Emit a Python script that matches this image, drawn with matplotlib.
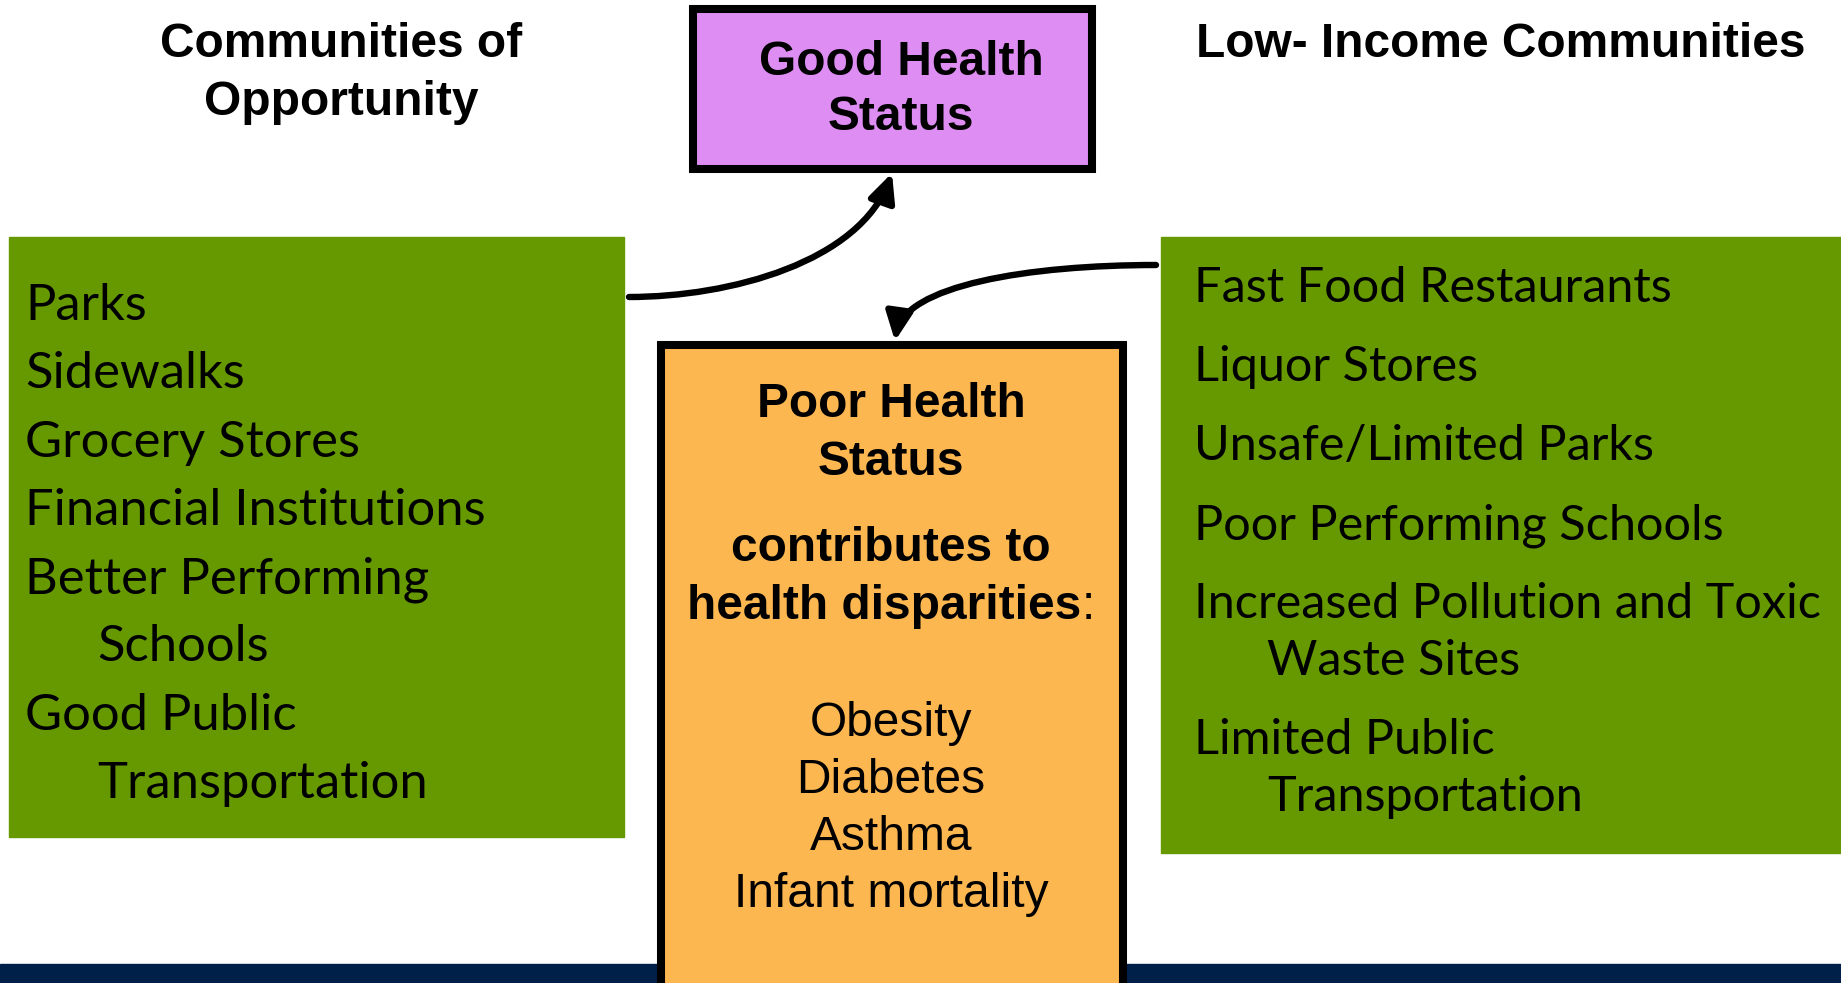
import matplotlib
matplotlib.use("Agg")
import matplotlib.pyplot as plt
from matplotlib.patches import Rectangle, FancyArrowPatch
from matplotlib.path import Path

W, H = 1841, 983

# text content
leftHeading = ["Communities of", "Opportunity"]
rightHeading = "Low- Income Communities"
goodTitle = ["Good Health", "Status"]
poorTitle = ["Poor Health", "Status"]
poorSub = ["contributes to", "health disparities"]
disparities = ["Obesity", "Diabetes", "Asthma", "Infant mortality"]
leftItems = ["Parks", "Sidewalks", "Grocery Stores", "Financial Institutions",
             "Better Performing\nSchools", "Good Public\nTransportation"]
rightItems = ["Fast Food Restaurants", "Liquor Stores", "Unsafe/Limited Parks",
              "Poor Performing Schools", "Increased Pollution and Toxic\nWaste Sites",
              "Limited Public\nTransportation"]

# colours
green = "#669900"
purple = "#DE8DF3"
orange = "#FDB751"
navy = "#00204A"

arial = "Liberation Sans"
calibri = "Lato"
hsize = 34.5
leftSize = 36.5
rightSize = 35

fig = plt.figure(figsize=(W / 100, H / 100), dpi=100)
ax = fig.add_axes([0, 0, 1, 1])
ax.set_xlim(0, W)
ax.set_ylim(H, 0)
ax.axis("off")

# bottom band
ax.add_patch(Rectangle((0, 964), W, H - 964, color=navy, zorder=1))

# green boxes
ax.add_patch(Rectangle((9, 237), 615, 600, color=green, zorder=1))
ax.add_patch(Rectangle((1161, 237), W - 1161, 616, color=green, zorder=1))

# outlined boxes
ax.add_patch(Rectangle((693, 9), 399, 160, facecolor=purple, edgecolor="black",
                       lw=5.8, zorder=2, joinstyle="miter"))
ax.add_patch(Rectangle((661, 345), 462, 660, facecolor=orange, edgecolor="black",
                       lw=5.8, zorder=2, joinstyle="miter"))

# headings
for i, line in enumerate(leftHeading):
    ax.text(341, 57 + 58 * i, line, ha="center", va="baseline", family=arial,
            weight="bold", fontsize=hsize, zorder=3)
ax.text(1501, 57, rightHeading, ha="center", va="baseline", family=arial,
        weight="bold", fontsize=hsize, zorder=3)

for i, line in enumerate(goodTitle):
    ax.text(901, 75 + 55 * i, line, ha="center", va="baseline", family=arial,
            weight="bold", fontsize=hsize, zorder=3)

cx = 891
for i, line in enumerate(poorTitle):
    ax.text(cx, 417 + 58 * i, line, ha="center", va="baseline", family=arial,
            weight="bold", fontsize=hsize, zorder=3)

ax.text(cx, 561, poorSub[0], ha="center", va="baseline", family=arial,
        weight="bold", fontsize=hsize, zorder=3)
# bold words followed by a regular colon, centred together
renderer = fig.canvas.get_renderer()
t1 = ax.text(0, 619, poorSub[1], ha="left", va="baseline", family=arial,
             weight="bold", fontsize=hsize, zorder=3)
t2 = ax.text(0, 619, ":", ha="left", va="baseline", family=arial,
             fontsize=hsize, zorder=3)
w1 = t1.get_window_extent(renderer).width
w2 = t2.get_window_extent(renderer).width
x0 = cx - (w1 + w2) / 2
t1.set_x(x0)
t2.set_x(x0 + w1)

for i, line in enumerate(disparities):
    ax.text(cx, 736 + 57 * i, line, ha="center", va="baseline", family=arial,
            fontsize=hsize, zorder=3)

# green list texts
y = 320
for item in leftItems:
    for j, line in enumerate(item.split("\n")):
        ax.text(25 if j == 0 else 97, y, line, ha="left", va="baseline",
                family=calibri, fontsize=leftSize, zorder=3)
        y += 68.3

y = 302
for item in rightItems:
    lines = item.split("\n")
    for j, line in enumerate(lines):
        ax.text(1194 if j == 0 else 1267, y + 57 * j, line, ha="left", va="baseline",
                family=calibri, fontsize=rightSize, zorder=3)
    y += 79 + 57 * (len(lines) - 1)

# curved arrows
curve1 = Path([(629, 297), (730, 297), (860, 262), (892, 173)],
              [Path.MOVETO, Path.CURVE4, Path.CURVE4, Path.CURVE4])
curve2 = Path([(1156, 265), (1030, 265), (903, 285), (895, 341)],
              [Path.MOVETO, Path.CURVE4, Path.CURVE4, Path.CURVE4])
for p in (curve1, curve2):
    arr = FancyArrowPatch(path=p, arrowstyle="-|>,head_length=0.85,head_width=0.4",
                          mutation_scale=20, lw=4.6, color="black", zorder=4,
                          transform=ax.transData)
    ax.add_patch(arr)

fig.savefig("out.png", dpi=100, facecolor="white")
